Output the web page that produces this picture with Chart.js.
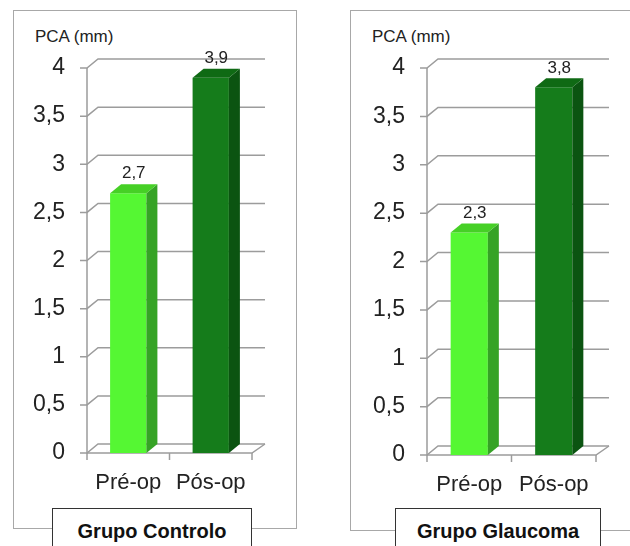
<!DOCTYPE html>
<html>
<head>
<meta charset="utf-8">
<script src="https://cdn.jsdelivr.net/npm/chart.js@4/dist/chart.umd.min.js"></script>
<style>
  body { margin: 0; width: 630px; height: 546px; overflow: hidden; background: #fff; position: relative; font-family: "Liberation Sans", Arial, sans-serif; }
  .panel { position: absolute; border: 1.5px solid #a8a8a8; box-sizing: border-box; }
  .unit { position: absolute; font-size: 17px; color: #222; }
  .group { position: absolute; top: 508px; height: 60px; border: 1.5px solid #333; background: #fff; box-sizing: border-box;
           text-align: center; font-weight: bold; font-size: 20px; line-height: 22px; padding-top: 11px; color: #111; }
  canvas { position: absolute; }
</style>
</head>
<body>
<div class="panel" style="left:13px; top:10px; width:284px; height:519px;"></div>
<div class="panel" style="left:350px; top:10px; width:300px; height:521px;"></div>

<div class="unit" style="left:35px; top:27px;">PCA (mm)</div>
<div class="unit" style="left:372px; top:27px;">PCA (mm)</div>

<canvas id="controlo" width="283" height="518" style="left:13px; top:10px;"></canvas>
<canvas id="glaucoma" width="280" height="520" style="left:350px; top:10px;"></canvas>

<div class="group" style="left:52px; width:200px;">Grupo Controlo</div>
<div class="group" style="left:395px; width:206px;">Grupo Glaucoma</div>

<script>
const categories = ['Pré-op', 'Pós-op'];
const controloValues = [2.7, 3.9];
const glaucomaValues = [2.3, 3.8];
const yMax = 4;
const yStep = 0.5;

const frontColors = ['#55f733', '#157c1b'];
const sideColors = ['#36a326', '#0b5411'];
const topColors = ['#46d026', '#0f6a14'];
const dx = 11;
const dy = -9;

const comma = (v) => String(v).replace('.', ',');
const fontFamily = '"Liberation Sans", Arial, sans-serif';

function poly(ctx, pts) {
  ctx.beginPath();
  ctx.moveTo(pts[0][0], pts[0][1]);
  pts.slice(1).forEach(p => ctx.lineTo(p[0], p[1]));
  ctx.closePath();
  ctx.fill();
}

// side wall + back wall grid lines and floor
const wallPlugin = {
  id: 'wall3d',
  beforeDatasetsDraw(chart) {
    const { ctx, chartArea: a, scales: { y } } = chart;
    ctx.save();
    ctx.strokeStyle = '#9c9c9c';
    ctx.lineWidth = 1.5;
    y.ticks.forEach(t => {
      const py = y.getPixelForValue(t.value);
      ctx.beginPath();
      ctx.moveTo(a.left - 7, py);
      ctx.lineTo(a.left, py);
      ctx.lineTo(a.left + dx, py + dy);
      ctx.lineTo(a.right + dx + 2, py + dy);
      ctx.stroke();
    });
    ctx.beginPath();
    ctx.moveTo(a.left, y.getPixelForValue(yMax));
    ctx.lineTo(a.left, a.bottom);
    ctx.lineTo(a.right, a.bottom);
    ctx.lineTo(a.right + dx + 2, a.bottom + dy);
    ctx.stroke();
    const n = chart.data.labels.length;
    for (let i = 0; i <= n; i++) {
      const px = a.left + i * a.width / n;
      ctx.beginPath();
      ctx.moveTo(px, a.bottom);
      ctx.lineTo(px, a.bottom + 7);
      ctx.stroke();
    }
    ctx.restore();
  },
  afterDatasetsDraw(chart) {
    const { ctx } = chart;
    const meta = chart.getDatasetMeta(0);
    const values = chart.data.datasets[0].data;
    ctx.save();
    meta.data.forEach((bar, i) => {
      const { x, y, base, width } = bar.getProps(['x', 'y', 'base', 'width'], true);
      const l = x - width / 2;
      const r = x + width / 2;
      ctx.fillStyle = sideColors[i];
      poly(ctx, [[r, y], [r + dx, y + dy], [r + dx, base + dy], [r, base]]);
      ctx.fillStyle = topColors[i];
      poly(ctx, [[l, y], [l + dx, y + dy], [r + dx, y + dy], [r, y]]);
      ctx.fillStyle = '#222';
      ctx.font = '17px ' + fontFamily;
      ctx.textAlign = 'center';
      ctx.textBaseline = 'bottom';
      ctx.fillText(comma(values[i]), x + dx / 2, y + dy - 2);
    });
    ctx.restore();
  }
};

function makeChart(id, values, yWidth, padRight) {
  return new Chart(document.getElementById(id), {
    type: 'bar',
    data: {
      labels: categories,
      datasets: [{
        data: values,
        backgroundColor: frontColors,
        borderWidth: 0,
        categoryPercentage: 1,
        barPercentage: 0.44,
      }],
    },
    options: {
      responsive: false,
      animation: false,
      devicePixelRatio: 1,
      layout: { padding: { top: 58, right: padRight, bottom: 35, left: 0 } },
      plugins: { legend: { display: false }, tooltip: { enabled: false } },
      scales: {
        x: {
          grid: { display: false, drawTicks: false },
          border: { display: false },
          ticks: { color: '#222', font: { size: 22, family: fontFamily }, padding: 17, maxRotation: 0 },
          afterFit: (s) => { s.height = 40; },
        },
        y: {
          min: 0,
          max: yMax,
          grid: { display: false, drawTicks: false },
          border: { display: false },
          ticks: {
            stepSize: yStep,
            color: '#222',
            font: { size: 23, family: fontFamily },
            padding: 22,
            callback: (v) => comma(v),
          },
          afterFit: (s) => { s.width = yWidth; },
        },
      },
    },
    plugins: [wallPlugin],
  });
}

makeChart('controlo', controloValues, 74, 44);
makeChart('glaucoma', glaucomaValues, 77, 34);
</script>
</body>
</html>
